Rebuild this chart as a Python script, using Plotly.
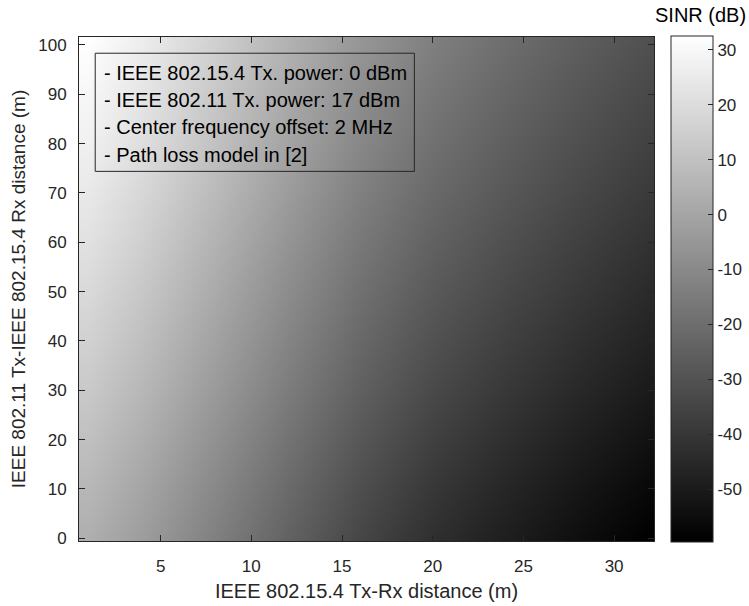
import plotly.graph_objects as go

# IEEE 802.15.4 Tx-Rx distance (m) sample positions
x_dist = [1, 4, 8, 12, 16, 20, 24, 28, 32]
# IEEE 802.11 Tx - IEEE 802.15.4 Rx distance (m) sample positions
y_dist = [0, 10, 20, 30, 40, 50, 60, 70, 80, 90, 101]

# SINR (dB), one row per y_dist value
sinr_y0 = [3.6, -2.9, -13.4, -24.2, -34.3, -42.6, -48.8, -54.5, -59.6]
sinr_y10 = [6.5, 0.0, -10.5, -21.3, -31.4, -39.7, -45.9, -51.6, -56.7]
sinr_y20 = [9.7, 3.2, -7.3, -18.1, -28.2, -36.5, -42.7, -48.4, -53.5]
sinr_y30 = [13.0, 6.5, -4.0, -14.8, -24.9, -33.2, -39.4, -45.1, -50.2]
sinr_y40 = [15.9, 9.4, -1.1, -11.9, -22.0, -30.3, -36.5, -42.2, -47.3]
sinr_y50 = [18.8, 12.3, 1.8, -9.0, -19.1, -27.4, -33.6, -39.3, -44.4]
sinr_y60 = [21.7, 15.2, 4.7, -6.1, -16.2, -24.5, -30.7, -36.4, -41.5]
sinr_y70 = [24.5, 18.0, 7.5, -3.3, -13.4, -21.7, -27.9, -33.6, -38.7]
sinr_y80 = [27.1, 20.6, 10.1, -0.7, -10.8, -19.1, -25.3, -31.0, -36.1]
sinr_y90 = [29.6, 23.1, 12.6, 1.8, -8.3, -16.6, -22.8, -28.5, -33.6]
sinr_y101 = [32.5, 26.0, 15.5, 4.7, -5.4, -13.7, -19.9, -25.6, -30.7]

x_ticks = [5, 10, 15, 20, 25, 30]
y_ticks = [0, 10, 20, 30, 40, 50, 60, 70, 80, 90, 100]
cb_ticks = [-50, -40, -30, -20, -10, 0, 10, 20, 30]
cb_ticktext = ["-50", "-40", "-30", "-20", "-10", "0", "10", "20", "30"]

legend_lines = [
    "- IEEE 802.15.4 Tx. power: 0 dBm",
    "- IEEE 802.11 Tx. power: 17 dBm",
    "- Center frequency offset: 2 MHz",
    "- Path loss model in [2]",
]

z = [sinr_y0, sinr_y10, sinr_y20, sinr_y30, sinr_y40, sinr_y50,
     sinr_y60, sinr_y70, sinr_y80, sinr_y90, sinr_y101]

W, H = 749, 606
L, R, T, B = 79.3, 654.0, 37.3, 540.7
pw, ph = R - L, B - T

def px(xp):
    return (xp - L) / pw

def py(yp):
    return (B - yp) / ph

AX = "#262626"
FONT = "Liberation Sans, Arial, Helvetica, sans-serif"
TICK_SIZE = 17
TEXT_SIZE = 20

fig = go.Figure()
fig.add_trace(go.Heatmap(
    x=x_dist, y=y_dist, z=z,
    zsmooth="best",
    colorscale=[[0, "black"], [1, "white"]],
    zmin=-59.6, zmax=32.5,
    colorbar=dict(
        x=px(671), xanchor="left", xref="paper",
        y=0.5, yanchor="middle", len=(541.7 - 36) / ph, lenmode="fraction",
        thickness=41.5, thicknessmode="pixels",
        outlinecolor=AX, outlinewidth=1,
        tickvals=cb_ticks, ticktext=cb_ticktext,
        ticks="inside", ticklen=5, tickcolor=AX,
        tickfont=dict(family=FONT, size=TICK_SIZE, color=AX),
        xpad=0, ypad=0,
    ),
))

axis_common = dict(
    showline=True, linecolor=AX, linewidth=1, mirror="allticks",
    ticks="inside", ticklen=6, tickcolor=AX, tickwidth=1,
    showgrid=False, zeroline=False,
    tickfont=dict(family=FONT, size=TICK_SIZE, color=AX),
)

fig.update_xaxes(range=[0.5, 32.2], tickvals=x_ticks, ticklabelstandoff=10,
                 title=dict(text="IEEE 802.15.4 Tx-Rx distance (m)",
                            font=dict(family=FONT, size=TEXT_SIZE, color=AX), standoff=8),
                 **axis_common)
fig.update_yaxes(range=[-0.55, 101.6], tickvals=y_ticks, ticklabelstandoff=8,
                 title=dict(text="IEEE 802.11 Tx-IEEE 802.15.4 Rx distance (m)",
                            font=dict(family=FONT, size=19, color=AX), standoff=7),
                 **axis_common)

# legend-like text box
fig.add_shape(type="rect", xref="paper", yref="paper",
              x0=px(95.5), x1=px(414.5), y0=py(171.5), y1=py(53.5),
              line=dict(color=AX, width=1), fillcolor="rgba(0,0,0,0)")
for i, line in enumerate(legend_lines):
    fig.add_annotation(xref="paper", yref="paper", x=px(102), y=py(73 + 27.3 * i),
                       xanchor="left", yanchor="middle", showarrow=False,
                       text=line, font=dict(family=FONT, size=TEXT_SIZE, color="black"))

fig.add_annotation(xref="paper", yref="paper", x=px(700), y=py(15),
                   xanchor="center", yanchor="middle", showarrow=False,
                   text="SINR (dB)", font=dict(family=FONT, size=TEXT_SIZE, color="black"))

fig.update_layout(
    width=W, height=H,
    margin=dict(l=L, r=W - R, t=T, b=H - B, pad=0, autoexpand=False),
    paper_bgcolor="white", plot_bgcolor="white",
    font=dict(family=FONT, color=AX),
)

fig.write_html("out.html")
